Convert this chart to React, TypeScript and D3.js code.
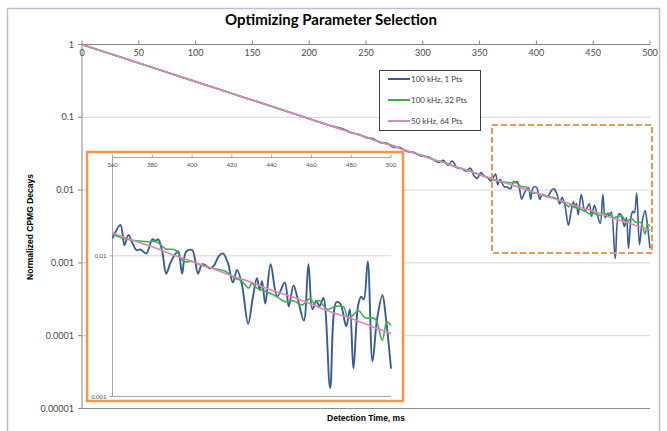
import React from 'react';
import * as d3 from 'd3';

// ---------- data ----------
const chartTitle = 'Optimizing Parameter Selection';
const xAxisTitle = 'Detection Time, ms';
const yAxisTitle = 'Normalized CPMG Decays';
const seriesNames = ['100 kHz, 1 Pts', '100 kHz, 32 Pts', '50 kHz, 64 Pts'];

const xTicks = [0, 50, 100, 150, 200, 250, 300, 350, 400, 450, 500];
const yTicks = [1, 0.1, 0.01, 0.001, 0.0001, 0.00001];
const yTickLabels = ['1', '0.1', '0.01', '0.001', '0.0001', '0.00001'];
const insetXTicks = [360, 380, 400, 420, 440, 460, 480, 500];
const insetYTicks = [0.01, 0.001];
const insetYTickLabels = ['0.01', '0.001'];

// 100 kHz, 1 Pts (blue)
const blueT = [0, 20, 40, 60, 80, 100, 120, 140, 160, 180, 200, 220, 230, 236, 244, 250, 256, 262, 268, 274, 280, 286, 292, 298, 304, 310, 314, 318, 322, 326, 330, 334, 338, 342, 345, 348, 351, 354, 357,
  360, 364, 366, 368, 370, 372, 374, 377, 380, 381.5, 383, 385, 387, 389, 391, 393, 395, 397, 400, 403, 405, 407, 409, 411, 413.5, 415.5, 418, 420.5, 422.6, 425, 428.2, 430.5, 432.6, 434, 435.2, 436.8, 439.5, 442.8, 446.6, 448.6, 451, 453, 456.2, 458.5, 460.5, 462.5, 464, 466, 469.4, 472.5, 474.5, 477.5, 479.3, 481.1, 483.5, 485, 486.3, 488.3, 490.7, 493, 495.7, 497.5, 500];
const blueV = [1, 0.791, 0.625, 0.494, 0.391, 0.309, 0.244, 0.193, 0.153, 0.121, 0.0955, 0.0759, 0.0692, 0.0617, 0.0582, 0.0525, 0.0513, 0.0452, 0.0442, 0.0389, 0.0385, 0.0339, 0.0331, 0.0295, 0.0288, 0.0257, 0.0240, 0.0257, 0.0219, 0.0251, 0.0204, 0.0200, 0.0182, 0.0200, 0.0158, 0.0145, 0.0174, 0.0158, 0.0148,
  0.0133, 0.01656, 0.0119, 0.0141, 0.0123, 0.0110, 0.0111, 0.0104, 0.0131, 0.0128, 0.0131, 0.0107, 0.00748, 0.00883, 0.0100, 0.0108, 0.00748, 0.0107, 0.0110, 0.00748, 0.00871, 0.00851, 0.00813, 0.00851, 0.0100, 0.0104, 0.00891, 0.00646, 0.00794, 0.00631, 0.00329, 0.00501, 0.00692, 0.00571, 0.00661, 0.00457, 0.00871, 0.00513, 0.00646, 0.00437, 0.00617, 0.00501, 0.00347, 0.00871, 0.00417, 0.00479, 0.00437, 0.00501, 0.00115, 0.00468, 0.00457, 0.00316, 0.00417, 0.00158, 0.00447, 0.00513, 0.00490, 0.00912, 0.00178, 0.00355, 0.00525, 0.00355, 0.00158];

// 100 kHz, 32 Pts (green)
const greenT = [0, 20, 40, 60, 80, 100, 120, 140, 160, 180, 200, 220, 240, 250, 260, 270, 280, 290, 300, 310, 320, 330, 340, 350,
  360, 368, 378, 382, 386.8, 391.6, 395.8, 400, 404.2, 410.9, 416.7, 421.7, 425, 428.4, 430, 432.6, 437.6, 442.6, 446.8, 451, 455.2, 459.3, 461.5, 463.5, 468, 472, 476.1, 478.6, 483.6, 487, 492, 495.6, 497.9, 500];
const greenV = [1, 0.791, 0.625, 0.494, 0.391, 0.309, 0.244, 0.193, 0.153, 0.121, 0.0955, 0.0755, 0.0597, 0.0535, 0.0468, 0.0425, 0.0376, 0.0330, 0.0299, 0.0260, 0.0237, 0.0204, 0.0186, 0.0162,
  0.01426, 0.01306, 0.0126, 0.0126, 0.0112, 0.0110, 0.00912, 0.00912, 0.00859, 0.00813, 0.00776, 0.00692, 0.00661, 0.00589, 0.00637, 0.00589, 0.00556, 0.00513, 0.00472, 0.00479, 0.00447, 0.00497, 0.00457, 0.00483, 0.00417, 0.00437, 0.00433, 0.00357, 0.00407, 0.00363, 0.00357, 0.00251, 0.00339, 0.00320];

// 50 kHz, 64 Pts (pink)
const pinkT = [0, 20, 40, 60, 80, 100, 120, 140, 160, 180, 200, 220, 240, 260, 280, 300, 320, 340,
  360, 370, 380, 390, 400, 410, 420, 430, 440, 450, 460, 470, 480, 490, 500];
const pinkV = [1, 0.791, 0.625, 0.494, 0.391, 0.309, 0.244, 0.193, 0.153, 0.121, 0.0955, 0.0755, 0.0597, 0.0472, 0.0373, 0.0295, 0.0233, 0.0185,
  0.01459, 0.0129, 0.01161, 0.01023, 0.00912, 0.00813, 0.00721, 0.00646, 0.00569, 0.00513, 0.00452, 0.00398, 0.00359, 0.00316, 0.00281];

const seriesColors = ['#385d94', '#3cb34a', '#e683bf'];

type Pt = [number, number];
const zip = (t: number[], v: number[]): Pt[] => t.map((tt, i) => [tt, v[i]]);
const series: Pt[][] = [zip(blueT, blueV), zip(greenT, greenV), zip(pinkT, pinkV)];

const FONT = 'Lato, "Open Sans", sans-serif';
const ARIAL = '"Liberation Sans", Arial, sans-serif';

export default function App() {
  const W = 667, H = 431;
  // main plot
  const x = d3.scaleLinear().domain([0, 500]).range([82, 650]);
  const y = d3.scaleLog().domain([1e-5, 1]).range([408.5, 44.5]);
  const line = d3.line<Pt>().x(d => x(d[0])).y(d => y(d[1])).curve(d3.curveCatmullRom.alpha(0.5));

  // inset plot
  const ix = d3.scaleLinear().domain([360, 500]).range([112.5, 391]);
  const iy = d3.scaleLog().domain([0.001, 0.05]).range([396.5, 157.5]);
  const iline = d3.line<Pt>().x(d => ix(d[0])).y(d => iy(d[1])).curve(d3.curveCatmullRom.alpha(0.5));
  const insetSeries = series.map(s => s.filter(d => d[0] >= 360));

  return (
    <svg width={W} height={H} style={{ position: 'absolute', left: 0, top: 0, background: '#fff' }}>
      {/* chart frame */}
      <rect x={7.5} y={8.5} width={652} height={440} fill="#fff" stroke="#b9c0d6" strokeWidth={1.5} />
      <text x={331} y={25} textAnchor="middle" fontFamily={FONT} fontWeight="bold" fontSize={15} fill="#000">{chartTitle}</text>

      {/* gridlines */}
      {yTicks.map((t, i) => (
        <line key={'g' + i} x1={x(0)} x2={x(500)} y1={y(t)} y2={y(t)}
          stroke={t === 1e-5 ? '#8c8c8c' : '#d4d4d4'} strokeWidth={1} />
      ))}
      {/* y axis */}
      <line x1={x(0)} x2={x(0)} y1={y(1)} y2={y(1e-5)} stroke="#868686" strokeWidth={1} />
      {yTicks.map((t, i) => (
        <g key={'yt' + i}>
          <line x1={x(0) - 4} x2={x(0)} y1={y(t)} y2={y(t)} stroke="#868686" />
          <text x={x(0) - 8} y={y(t) + 3} textAnchor="end" fontFamily={FONT} fontSize={9} fill="#4a4a4a">{yTickLabels[i]}</text>
        </g>
      ))}
      {/* x axis at top */}
      <line x1={x(0)} x2={x(500)} y1={y(1)} y2={y(1)} stroke="#868686" strokeWidth={1} />
      {xTicks.map((t, i) => (
        <g key={'xt' + i}>
          <line x1={x(t)} x2={x(t)} y1={y(1) - 4} y2={y(1)} stroke="#868686" />
          <text x={x(t)} y={y(1) + 11} textAnchor="middle" fontFamily={FONT} fontSize={9} fill="#4a4a4a">{t}</text>
        </g>
      ))}

      {/* main series */}
      {series.map((s, i) => (
        <path key={'s' + i} d={line(s) || ''} fill="none" stroke={seriesColors[i]} strokeWidth={1.6} />
      ))}

      {/* dashed highlight box */}
      <rect x={492} y={125} width={160} height={128} fill="none" stroke="#f79646" strokeWidth={2} strokeDasharray="6,3" />

      {/* axis titles */}
      <text transform="translate(33,227) rotate(-90)" textAnchor="middle" fontFamily={ARIAL} fontWeight="bold" fontSize={8.5} fill="#000">{yAxisTitle}</text>
      <text x={366} y={421} textAnchor="middle" fontFamily={ARIAL} fontWeight="bold" fontSize={8.5} fill="#000">{xAxisTitle}</text>

      {/* legend */}
      <rect x={379.5} y={70.5} width={101} height={60} fill="#fff" stroke="#404040" strokeWidth={1} />
      {seriesNames.map((n, i) => (
        <g key={'l' + i}>
          <line x1={388} x2={410} y1={79 + i * 21} y2={79 + i * 21} stroke={seriesColors[i]} strokeWidth={2} />
          <text x={411} y={81.5 + i * 21} fontFamily={FONT} fontSize={8} fill="#404040">{n}</text>
        </g>
      ))}

      {/* inset */}
      <rect x={87} y={152} width={316} height={249} fill="#fff" stroke="#f79646" strokeWidth={2.5} />
      <line x1={ix(360)} x2={ix(500)} y1={iy(0.01)} y2={iy(0.01)} stroke="#d4d4d4" />
      <line x1={ix(360)} x2={ix(500)} y1={iy(0.001)} y2={iy(0.001)} stroke="#a6a6a6" />
      <line x1={ix(360)} x2={ix(500)} y1={iy(0.05)} y2={iy(0.05)} stroke="#a6a6a6" />
      <line x1={ix(360)} x2={ix(360)} y1={iy(0.05)} y2={iy(0.001)} stroke="#a6a6a6" />
      {insetXTicks.map((t, i) => (
        <g key={'ixt' + i}>
          <line x1={ix(t)} x2={ix(t)} y1={iy(0.05) - 3} y2={iy(0.05)} stroke="#a6a6a6" />
          <text x={ix(t)} y={iy(0.05) + 9} textAnchor="middle" fontFamily={FONT} fontSize={6} fill="#4a4a4a">{t}</text>
        </g>
      ))}
      {insetYTicks.map((t, i) => (
        <g key={'iyt' + i}>
          <line x1={ix(360) - 3} x2={ix(360)} y1={iy(t)} y2={iy(t)} stroke="#a6a6a6" />
          <text x={ix(360) - 6} y={iy(t) + 2} textAnchor="end" fontFamily={FONT} fontSize={6} fill="#4a4a4a">{insetYTickLabels[i]}</text>
        </g>
      ))}
      {insetSeries.map((s, i) => (
        <path key={'is' + i} d={iline(s) || ''} fill="none" stroke={seriesColors[i]} strokeWidth={i === 0 ? 1.9 : 1.6} />
      ))}
    </svg>
  );
}
